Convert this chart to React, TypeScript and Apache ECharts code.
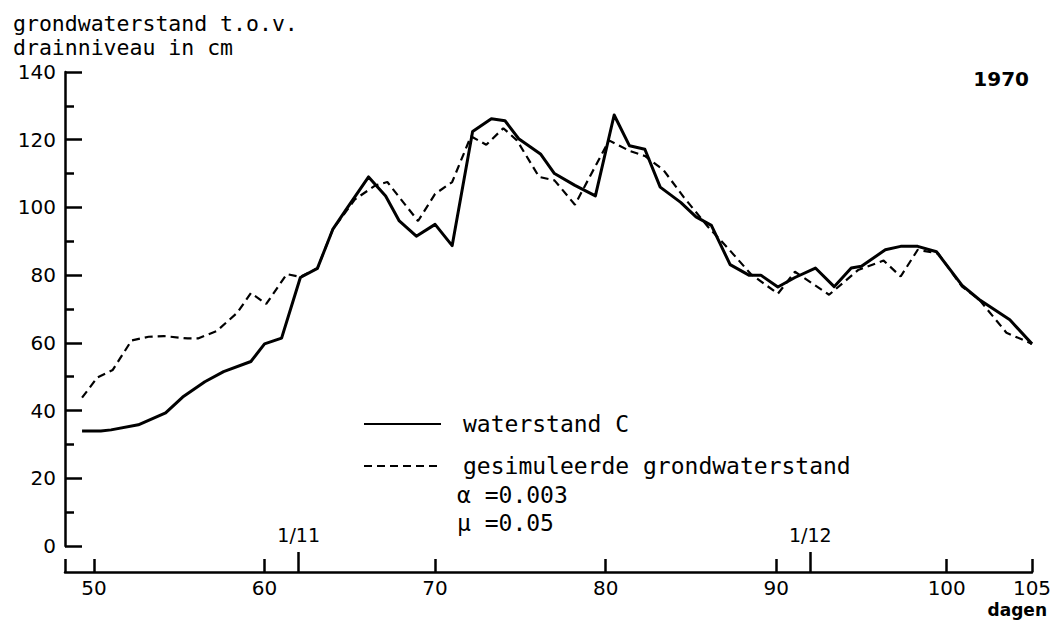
import React, { useEffect, useRef } from "react";
import * as echarts from "echarts";

// Days (x) and levels (cm)
const waterDays = [49.3, 50.4, 51, 52.6, 54.2, 55.2, 56.5, 57.6, 59.2, 60, 61, 62.1, 63.1, 64, 64.8, 66.1, 67.1, 67.9, 68.9, 70, 71, 72.2, 73.3, 74.1, 74.9, 76.2, 77, 78.2, 79.4, 80.5, 81.4, 82.3, 83.2, 84.4, 85.3, 86.2, 87.3, 88.4, 89.1, 90.1, 91.1, 92.3, 93.4, 94.4, 95, 96.4, 97.3, 98.3, 99.4, 100.9, 101.9, 103.7, 105];
const waterLevels = [34, 34, 34.3, 35.8, 39.3, 44, 48.5, 51.5, 54.5, 59.7, 61.4, 79.3, 82, 93.5, 99.5, 109, 103.4, 96, 91.5, 95, 88.7, 122.4, 126.2, 125.6, 120.3, 115.7, 110, 106.5, 103.4, 127.3, 118.2, 117.2, 106, 101.5, 97.2, 94.7, 83.1, 80, 80, 76.5, 79.3, 82.1, 76.6, 82.1, 82.6, 87.5, 88.5, 88.5, 86.9, 77, 72.8, 66.8, 59.7];

const simDays = [49.3, 50.2, 51.1, 52.2, 53.2, 54.1, 55.5, 56.1, 57.2, 58.4, 59.2, 60.1, 61.3, 62.1, 63.1, 64, 65.3, 66.5, 67.2, 69, 70, 71, 72.1, 73, 74, 74.8, 76.1, 77, 78.2, 80.2, 81.4, 82.3, 83.4, 84.6, 86, 87.2, 88.5, 90.1, 91.1, 93.1, 94.8, 96.3, 97.3, 98.3, 99.5, 100.9, 101.9, 103.5, 105];
const simLevels = [43.8, 49.8, 52, 60.7, 61.8, 62, 61.3, 61.3, 63.5, 68.9, 74.7, 71.5, 80.3, 79.5, 82, 93.5, 102.4, 106.5, 107.5, 96, 104, 107.5, 121, 118.5, 123.4, 119.8, 109, 108, 100.8, 119.8, 116.7, 115.2, 111, 102.9, 94.3, 87.8, 80.4, 74.5, 81, 74.2, 81.5, 84.3, 79.6, 87.5, 86.4, 76.6, 72.8, 63, 59.7];

const dayTicks = [50, 60, 70, 80, 90, 100, 105];
const monthDays = [62, 92];
const monthLabels = ["1/11", "1/12"];
const seriesNames = ["waterstand C", "gesimuleerde grondwaterstand"];
const yTitle = "grondwaterstand t.o.v.\ndrainniveau in cm";
const yearLabel = "1970";
const xUnit = "dagen";
const paramLines = ["α =0.003", "μ =0.05"];

const SANS = '"DejaVu Sans", sans-serif';
const MONO = '"DejaVu Sans Mono", monospace';
const BLACK = "#000";

export default function App() {
  const ref = useRef<HTMLDivElement>(null);

  useEffect(() => {
    if (!ref.current) return;
    const chart = echarts.init(ref.current, null, { renderer: "svg" });
    const axisLineStyle = { color: BLACK, width: 2.5 };
    const option: any = {
      animation: false,
      backgroundColor: "#fff",
      grid: [
        { left: 65, right: 25, top: 72, bottom: 75 },
        { left: 65, right: 25, top: 560, bottom: 49 },
      ],
      xAxis: [
        { gridIndex: 0, type: "value", min: 48.3, max: 105, show: false },
        {
          gridIndex: 1,
          type: "value",
          min: 48.3,
          max: 105,
          position: "bottom",
          axisLine: { show: true, lineStyle: axisLineStyle },
          axisTick: { show: true, inside: true, length: 13, lineStyle: axisLineStyle, customValues: [48.3, ...dayTicks] },
          axisLabel: { customValues: dayTicks, fontSize: 20, fontFamily: SANS, color: BLACK, margin: 6 },
          splitLine: { show: false },
        },
        {
          gridIndex: 1,
          type: "value",
          min: 48.3,
          max: 105,
          position: "bottom",
          offset: 0,
          axisLine: { show: false },
          axisTick: { show: true, inside: true, length: 20, lineStyle: axisLineStyle, customValues: monthDays },
          axisLabel: {
            inside: true,
            customValues: monthDays,
            formatter: (v: number) => monthLabels[monthDays.indexOf(v)] ?? "",
            fontSize: 19,
            fontFamily: SANS,
            color: BLACK,
            margin: 28,
          },
          splitLine: { show: false },
        },
      ],
      yAxis: [
        {
          gridIndex: 0,
          type: "value",
          min: 0,
          max: 140,
          interval: 20,
          axisLine: { show: true, lineStyle: axisLineStyle },
          axisTick: { show: true, inside: true, length: 17, lineStyle: axisLineStyle },
          minorTick: { show: true, splitNumber: 2, length: 9, lineStyle: axisLineStyle },
          axisLabel: { fontSize: 20, fontFamily: SANS, color: BLACK, margin: 9 },
          splitLine: { show: false },
        },
        { gridIndex: 1, type: "value", show: false },
      ],
      legend: {
        left: 358,
        top: 406,
        orient: "vertical",
        itemWidth: 77,
        itemHeight: 14,
        itemGap: 16,
        data: seriesNames,
        itemStyle: { opacity: 0 },
        textStyle: { fontFamily: MONO, fontSize: 23, color: BLACK, lineHeight: 26, padding: [0, 0, 0, 17] },
      },
      series: [
        {
          name: seriesNames[0],
          type: "line",
          xAxisIndex: 0,
          yAxisIndex: 0,
          symbol: "none",
          data: waterDays.map((d, i) => [d, waterLevels[i]]),
          lineStyle: { color: BLACK, width: 3, join: "round" },
          itemStyle: { color: BLACK },
          z: 3,
        },
        {
          name: seriesNames[1],
          type: "line",
          xAxisIndex: 0,
          yAxisIndex: 0,
          symbol: "none",
          data: simDays.map((d, i) => [d, simLevels[i]]),
          lineStyle: { color: BLACK, width: 2.2, type: [8, 5] },
          itemStyle: { color: BLACK },
          z: 2,
        },
      ],
      graphic: [
        {
          type: "text",
          x: 13,
          y: 11,
          style: { text: yTitle, font: `21.5px ${MONO}`, fill: BLACK, lineHeight: 24 },
        },
        {
          type: "text",
          x: 1029,
          y: 79,
          style: { text: yearLabel, font: `bold 20px ${SANS}`, fill: BLACK, align: "right", verticalAlign: "middle" },
        },
        {
          type: "text",
          x: 457,
          y: 495,
          style: { text: paramLines[0], font: `23px ${MONO}`, fill: BLACK, verticalAlign: "middle" },
        },
        {
          type: "text",
          x: 457,
          y: 523,
          style: { text: paramLines[1], font: `23px ${MONO}`, fill: BLACK, verticalAlign: "middle" },
        },
        {
          type: "text",
          x: 1047,
          y: 610,
          style: { text: xUnit, font: `bold 17px ${SANS}`, fill: BLACK, align: "right", verticalAlign: "middle" },
        },
      ],
    };
    chart.setOption(option);
    return () => chart.dispose();
  }, []);

  return (
    <div
      ref={ref}
      style={{ position: "fixed", left: 0, top: 0, width: 1057, height: 621, background: "#fff" }}
    />
  );
}
